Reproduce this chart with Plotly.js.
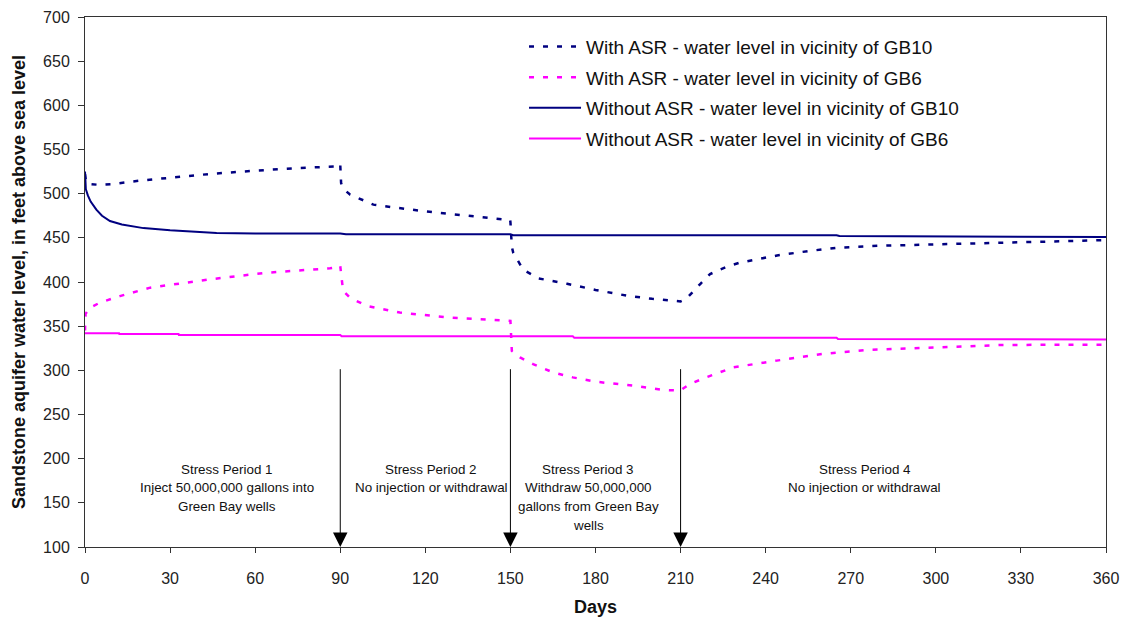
<!DOCTYPE html>
<html>
<head>
<meta charset="utf-8">
<script src="https://cdn.plot.ly/plotly-3.0.1.min.js"></script>
<style>html,body{margin:0;padding:0;background:#fff;}#chart{width:1124px;height:619px;}</style>
</head>
<body>
<div id="chart"></div>
<script>
// ---- Data (days, water level in feet above sea level) ----
const withGB10Days = [0,0.3,1,5,10,20,30,45,60,75,89.9,90,90.3,91,93.4,97,101.7,110,120,135,149.9,150,150.5,151,152.8,154.5,160,170,180,192,200,208.6,210,212,214.5,217,220.4,226,231,244,255,265,280,292,310,322.6,340,360];
const withGB10Vals = [522,515,511,510,511,515,518,522.6,526,529,531,533,512,506,499,494,487.6,484,480,475,470,468,440,433,424,414,404,398,391,384,381,378.6,378,381,390,398,409,417,422,430,435,438.7,441,442,443.5,444.4,446,447.4];

const withGB6Days = [0,0.2,1.8,5.3,12.3,23,44,64,86.4,89.9,90,91,93.4,99.3,111,128.7,144,149.9,150,150.5,153.4,158,165,172,180.4,193,203.8,209.8,213.3,219,228.6,243.9,260,275.6,292,322.6,340,360];
const withGB6Vals = [345,364,371,376.7,384,393.6,403,410.5,415.5,417,418,390,382.3,373,365.4,359.7,357,356.8,356,322,314.6,307,297.7,292,287,282.7,277.9,277,284.6,292,303.4,311,318.5,323,325.2,328.6,329,329];

const withoutGB10Days = [0,0.3,1,2,4,6,8.8,13,20.6,30,46.4,60,90,92,150,151,265,266,360];
const withoutGB10Vals = [525,505,498,491,482,475,469,465,461,458.5,455.6,455,455,454,454,453,453,452,451];

const withoutGB6Days = [0,12,12.1,33,33.1,90,90.5,172,172.5,265,265.5,360];
const withoutGB6Vals = [342,342,341,341,340,340,338.5,338.5,337,337,335.5,335];

const seriesNames = [
  "With ASR - water level in vicinity of GB10",
  "With ASR - water level in vicinity of GB6",
  "Without ASR - water level in vicinity of GB10",
  "Without ASR - water level in vicinity of GB6"
];

const xTicks = [0,30,60,90,120,150,180,210,240,270,300,330,360];
const yTicks = [100,150,200,250,300,350,400,450,500,550,600,650,700];

const arrowDays = [90,150,210];
const arrowTop = 303;

const periodCenters = [50,122,177.5,275];
const periodLines = [
  ["Stress Period 1","Inject 50,000,000 gallons into","Green Bay wells"],
  ["Stress Period 2","No injection or withdrawal"],
  ["Stress Period 3","Withdraw 50,000,000","gallons from Green Bay","wells"],
  ["Stress Period 4","No injection or withdrawal"]
];
const lineLevels = [187.6, 166.9, 145.5, 124];

const NAVY = "#000080", MAG = "#FF00FF";
const FONT = "Liberation Sans, Arial, sans-serif";

const traces = [
  {x: withGB10Days, y: withGB10Vals, name: seriesNames[0], legendgroup:"a", mode:"lines", line:{color:NAVY, width:2.5, dash:"5px,9px"}},
  {x: withGB6Days, y: withGB6Vals, name: seriesNames[1], legendgroup:"b", mode:"lines", line:{color:MAG, width:2.5, dash:"5px,9px"}},
  {x: withoutGB10Days, y: withoutGB10Vals, name: seriesNames[2], legendgroup:"c", mode:"lines", line:{color:NAVY, width:2}},
  {x: withoutGB6Days, y: withoutGB6Vals, name: seriesNames[3], legendgroup:"d", mode:"lines", line:{color:MAG, width:2}}
];

const annotations = [];
periodLines.forEach((lines, i) => {
  lines.forEach((t, j) => {
    annotations.push({x: periodCenters[i], y: lineLevels[j], xref:"x", yref:"y", text:t, showarrow:false,
      font:{family:FONT, size:13.4, color:"#111"}, xanchor:"center", yanchor:"middle"});
  });
});
arrowDays.forEach(d => {
  annotations.push({x:d, y:100, ax:d, ay:arrowTop, xref:"x", yref:"y", axref:"x", ayref:"y", text:"",
    showarrow:true, arrowhead:2, arrowsize:2.9, arrowwidth:1, arrowcolor:"#000", standoff:0});
});

const layout = {
  width:1124, height:619,
  margin:{l:85, r:18, t:17, b:72},
  paper_bgcolor:"#fff", plot_bgcolor:"#fff",
  font:{family:FONT, color:"#222"},
  showlegend:true,
  legend:{x:0.43, y:0.98, xanchor:"left", yanchor:"top", font:{size:19, color:"#111"},
    bgcolor:"rgba(255,255,255,0)", itemwidth:52, tracegroupgap:3, traceorder:"grouped"},
  xaxis:{range:[0,360], tickvals:xTicks, ticktext:xTicks.map(String), ticks:"outside", ticklen:5, tickcolor:"#333",
    showline:true, linecolor:"#333", linewidth:1, mirror:true, showgrid:false, zeroline:false,
    tickfont:{size:16, color:"#222"}, ticklabelstandoff:12,
    title:{text:"<b>Days</b>", font:{size:18, color:"#111"}, standoff:14}},
  yaxis:{range:[100,700], tickvals:yTicks, ticktext:yTicks.map(String), ticks:"outside", ticklen:6, tickcolor:"#333",
    showline:true, linecolor:"#333", linewidth:1, mirror:true, showgrid:false, zeroline:false,
    tickfont:{size:16, color:"#222"}, ticklabelstandoff:5,
    title:{text:"<b>Sandstone aquifer water level, in feet above sea level</b>", font:{size:18, color:"#111"}, standoff:12}},
  annotations: annotations
};

Plotly.newPlot("chart", traces, layout, {displayModeBar:false, staticPlot:true});
</script>
</body>
</html>
